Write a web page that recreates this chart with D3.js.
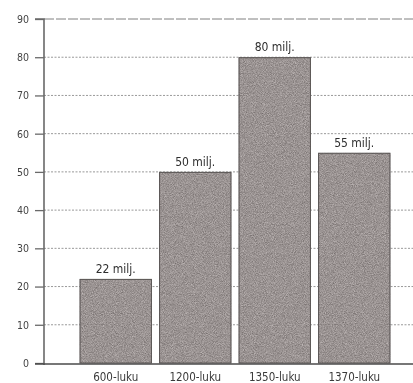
<!DOCTYPE html>
<html>
<head>
<meta charset="utf-8">
<script src="https://cdn.jsdelivr.net/npm/d3@7"></script>
<style>
  html, body { margin: 0; padding: 0; background: #fff; }
  svg { display: block; }
  text { font-family: "DejaVu Sans Condensed", "Liberation Sans Narrow", "DejaVu Sans", sans-serif; font-stretch: condensed; }
</style>
</head>
<body>
<div id="chart"></div>
<script>
// Väestö (miljoonaa) eri aikoina
const categories = ["600-luku", "1200-luku", "1350-luku", "1370-luku"];
const values = [22, 50, 80, 55];
const valueLabels = ["22 milj.", "50 milj.", "80 milj.", "55 milj."];
const yTicks = [0, 10, 20, 30, 40, 50, 60, 70, 80, 90];

const W = 413, H = 383;
const svg = d3.select("#chart").append("svg")
  .attr("width", W).attr("height", H);

const defs = svg.append("defs");

// grainy print texture for the bars: fill shifted up/down by grey noise
const grain = defs.append("filter").attr("id", "grain")
  .attr("x", 0).attr("y", 0).attr("width", 1).attr("height", 1)
  .attr("color-interpolation-filters", "sRGB");
grain.append("feTurbulence").attr("type", "fractalNoise")
  .attr("baseFrequency", 1.1).attr("numOctaves", 2).attr("seed", 7).attr("result", "noise");
grain.append("feColorMatrix").attr("in", "noise").attr("type", "matrix")
  .attr("values", "1 0 0 0 0  1 0 0 0 0  1 0 0 0 0  0 0 0 0 1")
  .attr("result", "grey");
grain.append("feComposite").attr("in", "grey").attr("in2", "SourceGraphic")
  .attr("operator", "arithmetic")
  .attr("k1", 0).attr("k2", 0.38).attr("k3", 1).attr("k4", -0.19)
  .attr("result", "mix");
grain.append("feComposite").attr("in", "mix").attr("in2", "SourceGraphic").attr("operator", "in");

// slight softness of the whole print
const soft = defs.append("filter").attr("id", "soft");
soft.append("feGaussianBlur").attr("stdDeviation", 0.35);

const root = svg.append("g").attr("filter", "url(#soft)");

const y = d3.scaleLinear().domain([0, 90]).range([363, 19]);
const x = d3.scaleBand().domain(categories).range([76, 394])
  .paddingInner(0.09).paddingOuter(0.045);

const axisX = 44;

// dotted gridlines
root.append("g").selectAll("line").data(yTicks.filter(d => d > 0)).join("line")
  .attr("x1", axisX).attr("x2", W)
  .attr("y1", d => y(d)).attr("y2", d => y(d))
  .attr("stroke", d => d === 90 ? "#808080" : "#999")
  .attr("stroke-width", 1)
  .attr("stroke-dasharray", d => d === 90 ? "10,2" : "2,1.5");

// bars
root.append("g").selectAll("rect").data(values).join("rect")
  .attr("x", (d, i) => x(categories[i]))
  .attr("width", x.bandwidth())
  .attr("y", d => y(d))
  .attr("height", d => y(0) - y(d))
  .attr("fill", "#9a9392")
  .attr("filter", "url(#grain)");
root.append("g").selectAll("rect").data(values).join("rect")
  .attr("x", (d, i) => x(categories[i]) + 0.5)
  .attr("width", x.bandwidth() - 1)
  .attr("y", d => y(d) + 0.5)
  .attr("height", d => y(0) - y(d) - 0.5)
  .attr("fill", "none")
  .attr("stroke", "#5a5655")
  .attr("stroke-width", 1);

// value labels above bars
root.append("g").selectAll("text").data(values).join("text")
  .attr("x", (d, i) => x(categories[i]) + x.bandwidth() / 2)
  .attr("y", d => y(d) - 6)
  .attr("text-anchor", "middle")
  .attr("font-size", 12)
  .attr("fill", "#2e2e2e")
  .text((d, i) => valueLabels[i]);

// y axis with ticks on the left
const yAxis = d3.axisLeft(y).tickValues(yTicks).tickSize(9).tickPadding(6);
const gy = root.append("g").attr("transform", `translate(${axisX},0)`).call(yAxis);
gy.select(".domain").attr("stroke", "#6a6a6a").attr("stroke-width", 1.6)
  .attr("d", `M-9,${y(90)}H0V${y(0) + 2}`);
gy.selectAll(".tick line").attr("stroke", "#6a6a6a").attr("stroke-width", 1.3);
gy.selectAll(".tick text").attr("font-size", 10.5).attr("fill", "#444")
  .style("font-family", "'DejaVu Sans Condensed', 'DejaVu Sans', sans-serif");

// baseline
root.append("line")
  .attr("x1", axisX - 9).attr("x2", W)
  .attr("y1", y(0) + 1).attr("y2", y(0) + 1)
  .attr("stroke", "#4a4a4a").attr("stroke-width", 1.5);

// category labels
const xAxis = d3.axisBottom(x).tickSize(0).tickPadding(8);
const gx = root.append("g").attr("transform", `translate(0,${y(0) + 2})`).call(xAxis);
gx.select(".domain").remove();
gx.selectAll(".tick text").attr("font-size", 11.5).attr("fill", "#3a3a3a")
  .style("font-family", "'DejaVu Sans Condensed', 'DejaVu Sans', sans-serif");
</script>
</body>
</html>
